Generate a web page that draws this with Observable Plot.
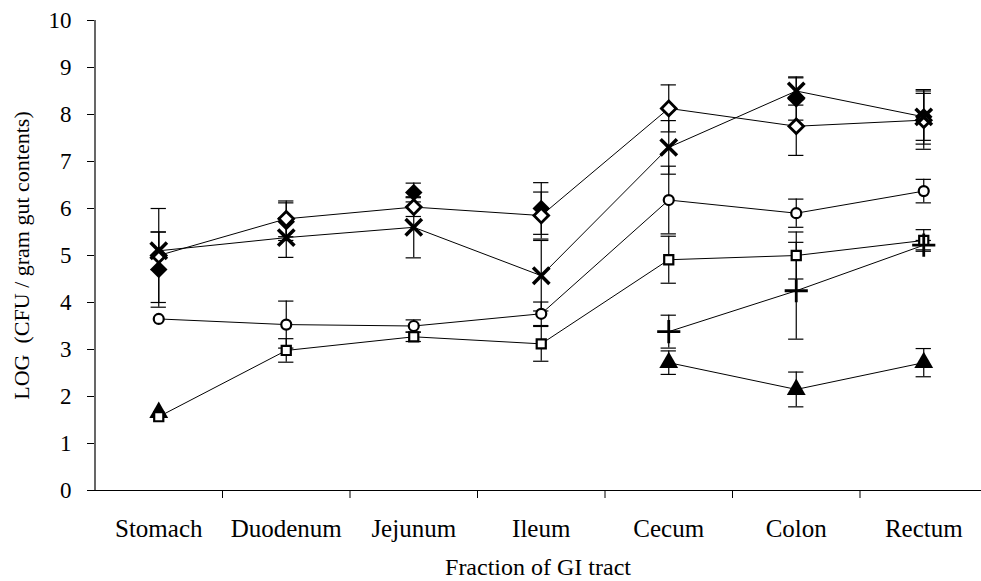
<!DOCTYPE html>
<html>
<head>
<meta charset="utf-8">
<script src="https://cdn.jsdelivr.net/npm/d3@7"></script>
<script src="https://cdn.jsdelivr.net/npm/@observablehq/plot@0.6"></script>
<style>
  html, body { margin: 0; padding: 0; background: white; }
  svg { display: block; }
</style>
</head>
<body>
<div id="chart"></div>
<script>
const categories = ["Stomach", "Duodenum", "Jejunum", "Ileum", "Cecum", "Colon", "Rectum"];
const yTicks = [0, 1, 2, 3, 4, 5, 6, 7, 8, 9, 10];

// Series values (LOG CFU / gram gut contents), null = not measured
const filledDiamond    = [4.70, 5.72, 6.34, 6.00, null, 8.33, 7.95];
const filledDiamondErr = [0.80, 0.40, 0.20, 0.55, null, 0.45, 0.58];
const openDiamond      = [5.00, 5.78, 6.03, 5.85, 8.13, 7.75, 7.88];
const openDiamondErr   = [1.00, 0.38, 0.20, 0.50, 0.50, 0.62, 0.62];
const cross            = [5.10, 5.38, 5.60, 4.57, 7.30, 8.50, 7.95];
const crossErr         = [0.40, 0.42, 0.65, 0.75, 0.57, 0.30, 0.50];
const circle           = [3.65, 3.53, 3.50, 3.76, 6.18, 5.90, 6.37];
const circleErr        = [0.00, 0.50, 0.13, 0.25, 0.72, 0.30, 0.25];
const square           = [1.57, 2.98, 3.27, 3.12, 4.91, 5.00, 5.32];
const squareErr        = [0.00, 0.25, 0.10, 0.37, 0.50, 0.50, 0.23];
const plus             = [null, null, null, null, 3.38, 4.25, 5.22];
const plusErr          = [null, null, null, null, 0.35, 1.03, 0.10];
const triangle         = [1.66, null, null, null, 2.72, 2.15, 2.72];
const triangleErr      = [0.00, null, null, null, 0.25, 0.37, 0.30];

const rows = (vals, errs) => vals.map((v, i) => ({i, v: v == null ? NaN : v, e: errs[i] == null ? 0 : errs[i]}));
const S = {
  filledDiamond: rows(filledDiamond, filledDiamondErr),
  openDiamond: rows(openDiamond, openDiamondErr),
  cross: rows(cross, crossErr),
  circle: rows(circle, circleErr),
  square: rows(square, squareErr),
  plus: rows(plus, plusErr),
  triangle: rows(triangle, triangleErr)
};
const allRows = Object.values(S).flat().filter(d => !isNaN(d.v) && d.e > 0);
const capHalf = 0.06;

const lineOpts = {x: "i", y: "v", stroke: "black", strokeWidth: 1};

const chart = Plot.plot({
  width: 981,
  height: 581,
  marginLeft: 94,
  marginRight: 0,
  marginTop: 20,
  marginBottom: 91,
  style: {fontFamily: "'Liberation Serif', 'Times New Roman', serif", fontSize: "23px", color: "black", background: "white"},
  x: {type: "linear", domain: [-0.5, 6.5], range: [94.5, 987]},
  y: {domain: [0, 10], range: [490, 20]},
  marks: [
    // lines
    Plot.line(S.openDiamond, lineOpts),
    Plot.line(S.cross, lineOpts),
    Plot.line(S.circle, lineOpts),
    Plot.line(S.square, lineOpts),
    Plot.line(S.plus, lineOpts),
    Plot.line(S.triangle, lineOpts),
    // error bars
    Plot.ruleX(allRows, {x: "i", y1: d => d.v - d.e, y2: d => d.v + d.e, stroke: "black", strokeWidth: 1.2}),
    Plot.ruleY(allRows, {y: d => d.v + d.e, x1: d => d.i - capHalf, x2: d => d.i + capHalf, stroke: "black", strokeWidth: 1.2}),
    Plot.ruleY(allRows, {y: d => d.v - d.e, x1: d => d.i - capHalf, x2: d => d.i + capHalf, stroke: "black", strokeWidth: 1.2}),
    // axes lines
    Plot.ruleY([0], {stroke: "black", strokeWidth: 1.2}),
    Plot.ruleX([-0.5], {stroke: "black", strokeWidth: 1.2}),
    Plot.axisY({ticks: yTicks, tickSize: 7, tickPadding: 16, label: null, fontSize: 23}),
    Plot.axisX({ticks: [0.5, 1.5, 2.5, 3.5, 4.5, 5.5], tickSize: 8, tickFormat: () => "", label: null}),
    Plot.axisX({ticks: [0, 1, 2, 3, 4, 5, 6], tickSize: 0, tickPadding: 29, tickFormat: i => categories[i], label: null, fontSize: 25}),
    // markers
    Plot.dot(S.triangle, {x: "i", y: "v", symbol: "triangle", fill: "black", r: 7}),
    Plot.dot(S.square, {x: "i", y: "v", symbol: "square2", fill: "white", stroke: "black", strokeWidth: 2.2, r: 5.8}),
    Plot.dot(S.circle, {x: "i", y: "v", symbol: "circle", fill: "white", stroke: "black", strokeWidth: 2.2, r: 5}),
    Plot.dot(S.plus, {x: "i", y: "v", symbol: "plus", stroke: "black", strokeWidth: 2.8, r: 7.5}),
    Plot.dot(S.filledDiamond, {x: "i", y: "v", symbol: "square", rotate: 45, fill: "black", r: 7}),
    Plot.dot(S.openDiamond, {x: "i", y: "v", symbol: "square2", rotate: 45, fill: "white", stroke: "black", strokeWidth: 2.8, r: 6.6}),
    Plot.dot(S.cross, {x: "i", y: "v", symbol: "times", stroke: "black", strokeWidth: 3.5, r: 7.5}),
    // titles
    Plot.text(["Fraction of GI tract"], {frameAnchor: "bottom", dy: 77, lineAnchor: "middle", textAnchor: "middle", fontSize: 24, fill: "black"}),
    Plot.text(["LOG\u00a0 (CFU / gram gut contents)"], {frameAnchor: "left", dx: -73, rotate: -90, lineAnchor: "middle", textAnchor: "middle", fontSize: 22, fill: "black"})
  ]
});
document.getElementById("chart").appendChild(chart);
</script>
</body>
</html>
